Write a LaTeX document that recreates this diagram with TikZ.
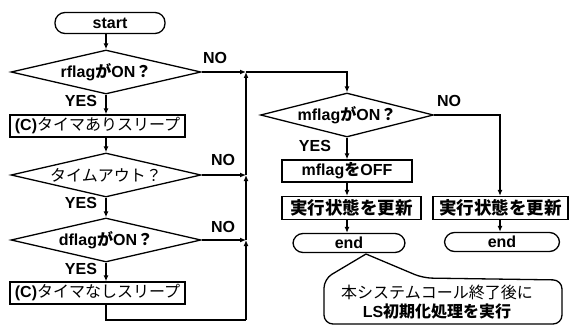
\documentclass[tikz,border=0pt]{standalone}
\usepackage{fontspec}
\setmainfont{Liberation Sans}
\newfontfamily\jp{Noto Sans CJK JP}
\usetikzlibrary{shapes.geometric,arrows.meta}
\newcommand{\J}[1]{{\jp #1}}
\newcommand{\JR}[1]{{\jp\mdseries #1}}
\newcommand{\JB}[1]{{\jp\fontsize{17.5}{19}\selectfont #1}}
\begin{document}
\begin{tikzpicture}[x=1pt,y=-1pt, line width=1.3pt,
  every node/.style={font=\fontsize{16}{19}\selectfont\bfseries},
  term/.style={draw, rounded corners=10pt, minimum height=21pt, inner sep=0pt},
  proc/.style={draw, minimum height=22pt, inner sep=0pt},
  dec/.style={draw, diamond, aspect=4.3, inner sep=0pt, minimum width=190pt, minimum height=44pt},
  lbl/.style={inner sep=0pt},
  arr/.style={-{Latex[length=6pt,width=5pt]}}
]
\useasboundingbox (0,0) rectangle (572,326);

% left column
\node[term, minimum width=110pt] (start) at (110,23) {start};
\node[dec] (rf) at (106,72) {rflag\J{が}ON\J{？}};
\node[proc, minimum width=175pt] (s1) at (97.5,126) {(C)\JR{タイマありスリープ}};
\node[dec] (to) at (106,175) {\JR{タイムアウト？}};
\node[dec] (df) at (106,240) {dflag\J{が}ON\J{？}};
\node[proc, minimum width=175pt] (s2) at (97.5,293) {(C)\JR{タイマなしスリープ}};

% merge line coordinates
\coordinate (m) at (246,72);
\coordinate (jt) at (246,175);
\coordinate (jd) at (246,240);
\coordinate (bot) at (246,320);

% right part
\node[dec, aspect=3.9, minimum width=173pt] (mf) at (347,115) {mflag\J{が}ON\J{？}};
\node[proc, minimum width=130pt] (off) at (347,171) {mflag\J{を}OFF};
\node[proc, minimum width=139pt, minimum height=23pt] (u1) at (351.5,208) {\JB{実行状態を更新}};
\node[term, minimum width=112pt, minimum height=19pt] (e1) at (349,243) {end};
\node[proc, minimum width=135pt, minimum height=23pt] (u2) at (500.5,208) {\JB{実行状態を更新}};
\node[term, minimum width=115pt, minimum height=19pt] (e2) at (502,242) {end};

% labels
\node[lbl] (y1) at (81,101) {YES};
\node[lbl] (y2) at (81,203) {YES};
\node[lbl] (y3) at (81,269) {YES};
\node[lbl] (y4) at (315,146) {YES};
\node[lbl] (n1) at (215,58) {NO};
\node[lbl] (n2) at (223,160) {NO};
\node[lbl] (n3) at (223,227) {NO};
\node[lbl] (n4) at (449,101) {NO};

% connectors left
\draw[arr] (start.south -| rf.north) -- (rf.north);
\draw[arr] (rf.south) -- (rf.south |- s1.north);
\draw[arr] (s1.south -| to.north) -- (to.north);
\draw[arr] (to.south) -- (df.north);
\draw[arr] (df.south) -- (df.south |- s2.north);
\draw (s2.south -| df.south) |- (bot);
\draw[arr] (bot) -- (jd);
\draw[arr] (jd) -- (jt);
\draw[arr] (jt) -- (m);
\draw[arr] (rf.east) -- (m);
\draw[arr] (to.east) -- (jt);
\draw[arr] (df.east) -- (jd);
\draw[arr] (m) -| (mf.north);

% connectors right
\draw[arr] (mf.south) -- (off.north);
\draw[arr] (off.south) -- (off.south |- u1.north);
\draw[arr] (off.south |- u1.south) -- (off.south |- e1.north);
\draw[arr] (mf.east) -| (u2.north -| 500,0);
\draw[arr] (u2.south -| 500,0) -- (e2.north -| 500,0);

% callout
\node[lbl, align=center] (co) at (437,302) {\JR{本システムコール終了後に}\\LS\J{初期化処理を実行}};
\coordinate (tip) at (366,254);
\draw[rounded corners=9pt, line cap=round] (tip) -- (324,279) -- (324,324) -- (562,324) -- (562,280) -- (423,278) -- (tip);
\end{tikzpicture}
\end{document}
